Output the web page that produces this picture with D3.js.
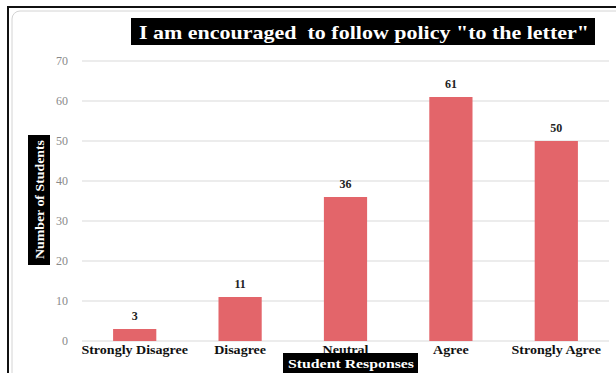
<!DOCTYPE html>
<html lang="en">
<head>
<meta charset="UTF-8" />
<title>Chart</title>
<script src="https://cdn.jsdelivr.net/npm/d3@7"></script>
<style>
  body { margin: 0; background: #fff; }
  text { font-family: "Liberation Serif", "DejaVu Serif", serif; }
</style>
</head>
<body>
<script>
var categories = ["Strongly Disagree", "Disagree", "Neutral", "Agree", "Strongly Agree"];
var counts = [3, 11, 36, 61, 50];
var yTicks = [0, 10, 20, 30, 40, 50, 60, 70];
var titleText = 'I am encouraged  to follow policy "to the letter"';
var xTitle = "Student Responses";
var yTitle = "Number of Students";

var W = 616, H = 373;
var svg = d3.select("body").append("svg").attr("width", W).attr("height", H);

// outer frame (top + left black lines)
svg.append("line").attr("x1", 8).attr("x2", W).attr("y1", 7).attr("y2", 7)
  .attr("stroke", "#111").attr("stroke-width", 2);
svg.append("line").attr("x1", 8).attr("x2", 8).attr("y1", 6).attr("y2", H)
  .attr("stroke", "#111").attr("stroke-width", 2);
// inner rounded panel
svg.append("rect").attr("x", 12).attr("y", 11).attr("width", W + 20).attr("height", H + 20)
  .attr("rx", 8).attr("fill", "#fff").attr("stroke", "#d4d4d4").attr("stroke-width", 1);

var x = d3.scaleBand().domain(categories).range([82, 609])
  .paddingInner(0.59).paddingOuter(0.295);
var y = d3.scaleLinear().domain([0, 70]).range([341, 61]);

// gridlines
svg.append("g").selectAll("line").data(yTicks).enter().append("line")
  .attr("x1", 82).attr("x2", 609)
  .attr("y1", function (d) { return y(d); })
  .attr("y2", function (d) { return y(d); })
  .attr("stroke", "#d9d9d9").attr("stroke-width", 1.2);

// y axis tick labels
var yAxis = d3.axisLeft(y).tickValues(yTicks).tickSize(0).tickPadding(0);
var gy = svg.append("g").attr("transform", "translate(68,0)").call(yAxis);
gy.select(".domain").remove();
gy.selectAll("text").attr("font-family", "'Liberation Serif', serif")
  .attr("font-size", 12).attr("fill", "#8a8a8a");

// bars
svg.append("g").selectAll("rect").data(counts).enter().append("rect")
  .attr("x", function (d, i) { return x(categories[i]); })
  .attr("y", function (d) { return y(d); })
  .attr("width", x.bandwidth())
  .attr("height", function (d) { return y(0) - y(d); })
  .attr("fill", "#e3656a");

// value labels
svg.append("g").selectAll("text").data(counts).enter().append("text")
  .attr("x", function (d, i) { return x(categories[i]) + x.bandwidth() / 2; })
  .attr("y", function (d) { return y(d) - 9; })
  .attr("text-anchor", "middle")
  .attr("font-size", 12).attr("font-weight", "bold").attr("fill", "#222")
  .text(function (d) { return d; });

// x axis category labels
var xAxis = d3.axisBottom(x).tickSize(0).tickPadding(0);
var gx = svg.append("g").attr("transform", "translate(0,345)").call(xAxis);
gx.select(".domain").remove();
gx.selectAll("text").attr("font-family", "'Liberation Serif', serif")
  .attr("font-size", 13).attr("font-weight", "bold").attr("fill", "#111")
  .attr("transform", "scale(1.08,1)");

// title box
svg.append("rect").attr("x", 131).attr("y", 18).attr("width", 464).attr("height", 27).attr("fill", "#000");
svg.append("text").attr("x", 139).attr("y", 39)
  .attr("font-size", 19).attr("font-weight", "bold").attr("fill", "#fff")
  .attr("textLength", 450).attr("lengthAdjust", "spacingAndGlyphs")
  .attr("xml:space", "preserve").text(titleText);

// x axis title box
svg.append("rect").attr("x", 283).attr("y", 353).attr("width", 135).attr("height", 22).attr("fill", "#000");
svg.append("text").attr("x", 288).attr("y", 368)
  .attr("font-size", 13).attr("font-weight", "bold").attr("fill", "#fff")
  .attr("textLength", 126).attr("lengthAdjust", "spacingAndGlyphs").text(xTitle);

// y axis title box
svg.append("rect").attr("x", 28).attr("y", 135).attr("width", 22).attr("height", 130).attr("fill", "#000");
svg.append("text").attr("transform", "translate(44,259) rotate(-90)")
  .attr("font-size", 13).attr("font-weight", "bold").attr("fill", "#fff")
  .attr("textLength", 119).attr("lengthAdjust", "spacingAndGlyphs").text(yTitle);
</script>
</body>
</html>
